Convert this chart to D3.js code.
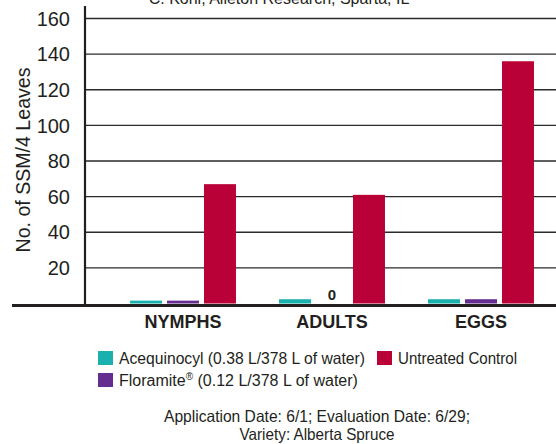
<!DOCTYPE html>
<html><head><meta charset="utf-8">
<script src="https://cdn.jsdelivr.net/npm/d3@7"></script>
<style>body{margin:0;background:#fff}svg{display:block;font-family:"Liberation Sans",Arial,sans-serif}</style>
</head><body><svg id="c" width="556" height="444"></svg>
<script>
const categories = ["NYMPHS", "ADULTS", "EGGS"];
const seriesNames = ["Acequinocyl (0.38 L/378 L of water)", "Floramite® (0.12 L/378 L of water)", "Untreated Control"];
const acequinocyl = [1.6, 2.4, 2.4];
const floramite = [1.6, 0, 2.4];
const untreated = [67, 61, 136];
const yTicks = [20, 40, 60, 80, 100, 120, 140, 160];
const colors = ["#19b0ad", "#662d91", "#b90037"];
const zeroLabel = "0";
const topNote = "C. Kohl, Alleton Research, Sparta, IL";
const footLines = ["Application Date: 6/1; Evaluation Date: 6/29;", "Variety: Alberta Spruce"];

const series = [acequinocyl, floramite, untreated];
const svg = d3.select("#c");
const ink = "#231f20";

const y = d3.scaleLinear().domain([0, 160]).range([303.5, 18.5]);
const x0 = d3.scaleBand().domain(categories).range([108.5, 555.5]).paddingInner(0.289).paddingOuter(0.1445);
const x1 = d3.scaleBand().domain(d3.range(3)).range([0, x0.bandwidth()]).paddingInner(0.135).paddingOuter(0);

// top note (cut off at top edge as in the reference)
svg.append("text").attr("x", 279).attr("y", 4).attr("text-anchor", "middle")
  .attr("font-size", 16).attr("fill", ink).text(topNote);

// gridlines
svg.append("g").selectAll("line").data(yTicks).join("line")
  .attr("x1", 85).attr("x2", 556).attr("y1", d => y(d)).attr("y2", d => y(d))
  .attr("stroke", "#2a2a2a").attr("stroke-width", 1.3);

// y tick labels
svg.append("g").selectAll("text").data(yTicks).join("text")
  .attr("x", 70).attr("y", d => y(d)).attr("dy", "0.36em").attr("text-anchor", "end")
  .attr("font-size", 20).attr("fill", ink).text(d => d);

// y axis title
svg.append("text").attr("transform", "translate(30,160) rotate(-90)").attr("text-anchor", "middle")
  .attr("font-size", 20).attr("textLength", 185).attr("lengthAdjust", "spacingAndGlyphs")
  .attr("fill", ink).text("No. of SSM/4 Leaves");

// bars
const g = svg.append("g");
categories.forEach((c, ci) => {
  series.forEach((s, si) => {
    const v = s[ci];
    if (v > 0) {
      g.append("rect").attr("x", x0(c) + x1(si)).attr("width", x1.bandwidth())
        .attr("y", y(v)).attr("height", y(0) - y(v)).attr("fill", colors[si]);
    }
  });
});

// zero label
svg.append("text").attr("x", x0("ADULTS") + x1(1) + x1.bandwidth() / 2).attr("y", 300)
  .attr("text-anchor", "middle").attr("font-size", 15).attr("font-weight", "bold").attr("fill", ink).text(zeroLabel);

// y axis line
svg.append("line").attr("x1", 85).attr("x2", 85).attr("y1", 6).attr("y2", 306)
  .attr("stroke", ink).attr("stroke-width", 2.2);
// baseline
svg.append("line").attr("x1", 12).attr("x2", 556).attr("y1", 305.5).attr("y2", 305.5)
  .attr("stroke", ink).attr("stroke-width", 3);

// category labels
svg.append("g").selectAll("text").data(categories).join("text")
  .attr("x", d => x0(d) + x0.bandwidth() / 2).attr("y", 328).attr("text-anchor", "middle")
  .attr("font-size", 18).attr("font-weight", "bold").attr("fill", ink).text(d => d);

// legend
const legendPos = [[98, 351], [98, 373], [377, 351]];
const legendLen = [246, 237, 119];
series.forEach((s, si) => {
  const [lx, ly] = legendPos[si];
  svg.append("rect").attr("x", lx).attr("y", ly).attr("width", 15).attr("height", 14).attr("fill", colors[si]);
  const name = seriesNames[si];
  const t = svg.append("text").attr("x", lx + 21).attr("y", ly + 13).attr("font-size", 16.5).attr("fill", ink);
  if (name.includes("®")) {
    const [a, b] = name.split("®");
    t.attr("font-size", 16);
    t.append("tspan").text(a);
    t.append("tspan").attr("font-size", 10).attr("dy", -6).text("®");
    t.append("tspan").attr("dy", 6).text(b);
  } else {
    t.attr("textLength", legendLen[si]).attr("lengthAdjust", "spacingAndGlyphs").text(name);
  }
});

// footnote
const footLen = [306, 155];
footLines.forEach((t, i) => {
  svg.append("text").attr("x", 317).attr("y", 422 + i * 18).attr("text-anchor", "middle")
    .attr("font-size", 16.5).attr("textLength", footLen[i]).attr("lengthAdjust", "spacingAndGlyphs")
    .attr("fill", ink).text(t);
});
</script></body></html>
